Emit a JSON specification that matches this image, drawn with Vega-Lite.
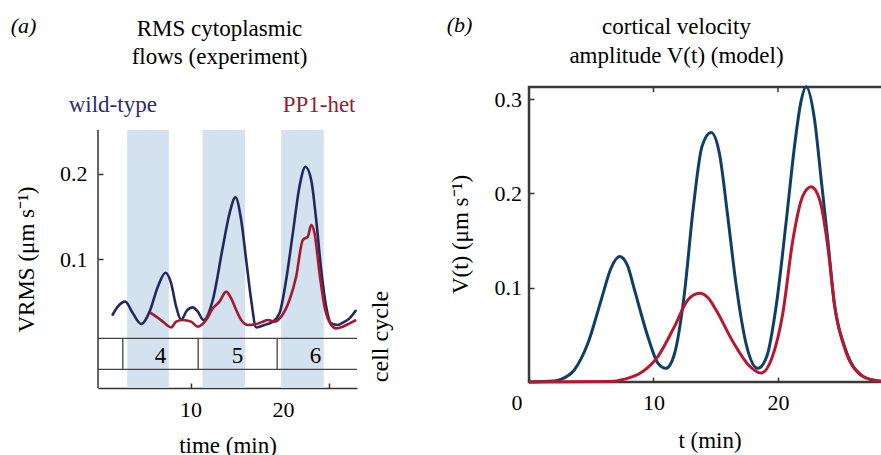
{
  "$schema": "https://vega.github.io/schema/vega-lite/v6.json",
  "background": "white",
  "autosize": {"type": "pad"},
  "padding": {"left": 10, "top": 12, "right": 0, "bottom": 0},
  "bounds": "flush",
  "spacing": 172,
  "resolve": {"scale": {"color": "independent"}},
  "config": {
    "font": "Liberation Serif",
    "view": {"stroke": null},
    "axis": {
      "labelFont": "Liberation Serif", "labelFontSize": 22, "labelColor": "#000",
      "titleFont": "Liberation Serif", "titleFontSize": 23, "titleFontWeight": "normal", "titleColor": "#000",
      "grid": false, "domainColor": "#333", "domainWidth": 1.5, "tickColor": "#333", "tickWidth": 1.5,
      "tickSize": -5, "labelFlush": false, "labelOverlap": false
    },
    "title": {"font": "Liberation Serif", "fontSize": 23, "fontWeight": "normal", "color": "#000"},
    "text": {"font": "Liberation Serif", "fontSize": 23, "color": "#000"}
  },
  "datasets": {
    "bands": [
      {"start": 3.16, "end": 7.66},
      {"start": 11.3, "end": 15.9},
      {"start": 19.8, "end": 24.4}
    ],
    "cycleLines": [{"t": 2.68}, {"t": 10.83}, {"t": 19.37}],
    "cycleRows": [{"level": 0.0067}, {"level": -0.0298}],
    "cycles": [
      {"t": 6.76, "cycle": "4"},
      {"t": 15.08, "cycle": "5"},
      {"t": 23.51, "cycle": "6"}
    ],
    "topTicks": [{"t": 10}, {"t": 20}],
    "expt": [
      {"strain": "wild-type", "t": 1.53, "v": 0.0333},
      {"strain": "wild-type", "t": 2.14, "v": 0.0439},
      {"strain": "wild-type", "t": 2.94, "v": 0.0498},
      {"strain": "wild-type", "t": 3.77, "v": 0.0361},
      {"strain": "wild-type", "t": 4.67, "v": 0.0235},
      {"strain": "wild-type", "t": 5.57, "v": 0.038},
      {"strain": "wild-type", "t": 6.47, "v": 0.0675},
      {"strain": "wild-type", "t": 7.3, "v": 0.0839},
      {"strain": "wild-type", "t": 7.91, "v": 0.0714},
      {"strain": "wild-type", "t": 8.45, "v": 0.0439},
      {"strain": "wild-type", "t": 8.99, "v": 0.0282},
      {"strain": "wild-type", "t": 9.6, "v": 0.0392},
      {"strain": "wild-type", "t": 10.25, "v": 0.0431},
      {"strain": "wild-type", "t": 10.79, "v": 0.038},
      {"strain": "wild-type", "t": 11.4, "v": 0.0282},
      {"strain": "wild-type", "t": 12.41, "v": 0.0518},
      {"strain": "wild-type", "t": 13.5, "v": 0.1145},
      {"strain": "wild-type", "t": 14.22, "v": 0.1537},
      {"strain": "wild-type", "t": 14.86, "v": 0.1725},
      {"strain": "wild-type", "t": 15.48, "v": 0.1459},
      {"strain": "wild-type", "t": 16.02, "v": 0.0988},
      {"strain": "wild-type", "t": 16.56, "v": 0.0518},
      {"strain": "wild-type", "t": 17.1, "v": 0.0196},
      {"strain": "wild-type", "t": 18.0, "v": 0.0224},
      {"strain": "wild-type", "t": 18.9, "v": 0.0263},
      {"strain": "wild-type", "t": 19.62, "v": 0.0361},
      {"strain": "wild-type", "t": 20.34, "v": 0.0753},
      {"strain": "wild-type", "t": 21.06, "v": 0.1302},
      {"strain": "wild-type", "t": 21.78, "v": 0.1851},
      {"strain": "wild-type", "t": 22.43, "v": 0.2086},
      {"strain": "wild-type", "t": 23.05, "v": 0.193},
      {"strain": "wild-type", "t": 23.59, "v": 0.1459},
      {"strain": "wild-type", "t": 24.13, "v": 0.0871},
      {"strain": "wild-type", "t": 24.67, "v": 0.0439},
      {"strain": "wild-type", "t": 25.21, "v": 0.0243},
      {"strain": "wild-type", "t": 25.93, "v": 0.0224},
      {"strain": "wild-type", "t": 26.47, "v": 0.0251},
      {"strain": "wild-type", "t": 27.19, "v": 0.0302},
      {"strain": "wild-type", "t": 27.91, "v": 0.04},
      {"strain": "PP1-het", "t": 5.64, "v": 0.0369},
      {"strain": "PP1-het", "t": 6.29, "v": 0.0322},
      {"strain": "PP1-het", "t": 7.01, "v": 0.0263},
      {"strain": "PP1-het", "t": 7.91, "v": 0.0196},
      {"strain": "PP1-het", "t": 8.45, "v": 0.0263},
      {"strain": "PP1-het", "t": 9.17, "v": 0.0282},
      {"strain": "PP1-het", "t": 10.07, "v": 0.0263},
      {"strain": "PP1-het", "t": 10.79, "v": 0.0204},
      {"strain": "PP1-het", "t": 11.69, "v": 0.0282},
      {"strain": "PP1-het", "t": 12.41, "v": 0.042},
      {"strain": "PP1-het", "t": 13.14, "v": 0.0498},
      {"strain": "PP1-het", "t": 13.86, "v": 0.0616},
      {"strain": "PP1-het", "t": 14.4, "v": 0.0537},
      {"strain": "PP1-het", "t": 14.94, "v": 0.04},
      {"strain": "PP1-het", "t": 15.48, "v": 0.0282},
      {"strain": "PP1-het", "t": 16.2, "v": 0.0224},
      {"strain": "PP1-het", "t": 17.1, "v": 0.0235},
      {"strain": "PP1-het", "t": 17.82, "v": 0.0263},
      {"strain": "PP1-het", "t": 18.36, "v": 0.0282},
      {"strain": "PP1-het", "t": 19.08, "v": 0.0263},
      {"strain": "PP1-het", "t": 19.8, "v": 0.0322},
      {"strain": "PP1-het", "t": 20.7, "v": 0.0518},
      {"strain": "PP1-het", "t": 21.42, "v": 0.0792},
      {"strain": "PP1-het", "t": 22.14, "v": 0.1224},
      {"strain": "PP1-het", "t": 22.68, "v": 0.1263},
      {"strain": "PP1-het", "t": 23.05, "v": 0.14},
      {"strain": "PP1-het", "t": 23.41, "v": 0.1302},
      {"strain": "PP1-het", "t": 23.95, "v": 0.0831},
      {"strain": "PP1-het", "t": 24.49, "v": 0.0439},
      {"strain": "PP1-het", "t": 25.21, "v": 0.0224},
      {"strain": "PP1-het", "t": 25.75, "v": 0.0184},
      {"strain": "PP1-het", "t": 26.47, "v": 0.0204},
      {"strain": "PP1-het", "t": 27.19, "v": 0.0243},
      {"strain": "PP1-het", "t": 27.91, "v": 0.0282}
    ],
    "model": [
      {"strain": "wild-type", "t": 0, "v": 0},
      {"strain": "wild-type", "t": 2.0, "v": 0.001},
      {"strain": "wild-type", "t": 2.6, "v": 0.003},
      {"strain": "wild-type", "t": 3.65, "v": 0.013},
      {"strain": "wild-type", "t": 4.73, "v": 0.041},
      {"strain": "wild-type", "t": 5.8, "v": 0.087},
      {"strain": "wild-type", "t": 6.6, "v": 0.121},
      {"strain": "wild-type", "t": 7.27, "v": 0.133},
      {"strain": "wild-type", "t": 7.9, "v": 0.124},
      {"strain": "wild-type", "t": 8.47, "v": 0.098},
      {"strain": "wild-type", "t": 9.55, "v": 0.048},
      {"strain": "wild-type", "t": 10.35, "v": 0.02},
      {"strain": "wild-type", "t": 11.0, "v": 0.0145},
      {"strain": "wild-type", "t": 11.69, "v": 0.03},
      {"strain": "wild-type", "t": 12.45, "v": 0.09},
      {"strain": "wild-type", "t": 13.2, "v": 0.185},
      {"strain": "wild-type", "t": 13.9, "v": 0.25},
      {"strain": "wild-type", "t": 14.63, "v": 0.2645},
      {"strain": "wild-type", "t": 15.3, "v": 0.242},
      {"strain": "wild-type", "t": 15.97, "v": 0.175},
      {"strain": "wild-type", "t": 16.64, "v": 0.103},
      {"strain": "wild-type", "t": 17.45, "v": 0.04},
      {"strain": "wild-type", "t": 18.38, "v": 0.0145},
      {"strain": "wild-type", "t": 19.1, "v": 0.027},
      {"strain": "wild-type", "t": 19.85, "v": 0.08},
      {"strain": "wild-type", "t": 20.66, "v": 0.17},
      {"strain": "wild-type", "t": 21.33, "v": 0.25},
      {"strain": "wild-type", "t": 21.86, "v": 0.298},
      {"strain": "wild-type", "t": 22.26, "v": 0.313},
      {"strain": "wild-type", "t": 22.93, "v": 0.279},
      {"strain": "wild-type", "t": 23.47, "v": 0.215},
      {"strain": "wild-type", "t": 24.0, "v": 0.151},
      {"strain": "wild-type", "t": 24.54, "v": 0.082},
      {"strain": "wild-type", "t": 25.34, "v": 0.038},
      {"strain": "wild-type", "t": 26.28, "v": 0.012},
      {"strain": "wild-type", "t": 27.35, "v": 0.003},
      {"strain": "wild-type", "t": 29, "v": 0},
      {"strain": "PP1-het", "t": 0, "v": 0},
      {"strain": "PP1-het", "t": 6.5, "v": 0.0005},
      {"strain": "PP1-het", "t": 7.67, "v": 0.003},
      {"strain": "PP1-het", "t": 9.01, "v": 0.01},
      {"strain": "PP1-het", "t": 10.35, "v": 0.027},
      {"strain": "PP1-het", "t": 11.69, "v": 0.059},
      {"strain": "PP1-het", "t": 12.76, "v": 0.087},
      {"strain": "PP1-het", "t": 13.7, "v": 0.094},
      {"strain": "PP1-het", "t": 14.4, "v": 0.089},
      {"strain": "PP1-het", "t": 15.04, "v": 0.076},
      {"strain": "PP1-het", "t": 16.37, "v": 0.043},
      {"strain": "PP1-het", "t": 17.71, "v": 0.017},
      {"strain": "PP1-het", "t": 18.65, "v": 0.0095},
      {"strain": "PP1-het", "t": 19.5, "v": 0.025},
      {"strain": "PP1-het", "t": 20.39, "v": 0.073},
      {"strain": "PP1-het", "t": 21.19, "v": 0.15},
      {"strain": "PP1-het", "t": 21.99, "v": 0.197},
      {"strain": "PP1-het", "t": 22.66, "v": 0.207},
      {"strain": "PP1-het", "t": 23.33, "v": 0.194},
      {"strain": "PP1-het", "t": 24.0, "v": 0.144},
      {"strain": "PP1-het", "t": 24.54, "v": 0.082},
      {"strain": "PP1-het", "t": 25.48, "v": 0.031},
      {"strain": "PP1-het", "t": 26.55, "v": 0.009},
      {"strain": "PP1-het", "t": 27.6, "v": 0.002},
      {"strain": "PP1-het", "t": 29, "v": 0}
    ]
  },
  "hconcat": [
    {
      "width": 259,
      "height": 301,
      "title": {"text": ["RMS cytoplasmic", "flows (experiment)"], "frame": "group", "anchor": "middle", "baseline": "top", "offset": -54, "lineHeight": 28.3, "dx": -8},
      "layer": [
        {
          "data": {"name": "bands"},
          "mark": {"type": "rect", "color": "#d4e1ee"},
          "encoding": {
            "x": {"field": "start", "type": "quantitative", "scale": {"domain": [0, 28], "nice": false, "zero": false},
                  "axis": {"title": "time (min)", "values": [5, 10, 15, 20, 25], "labelExpr": "datum.value == 10 || datum.value == 20 ? datum.label : ''", "domain": true, "labelPadding": 16.6, "titleY": 64, "titleBaseline": "alphabetic", "labelFont": "Liberation Serif", "titleFont": "Liberation Serif"}},
            "x2": {"field": "end"},
            "y": {"datum": 0.2518, "type": "quantitative", "scale": {"domain": [-0.05176, 0.30235], "nice": false, "zero": false},
                  "axis": {"title": "VRMS (μm s⁻¹)", "values": [0.1, 0.2], "format": ".1f", "domain": false, "labelPadding": 16, "titleX": -65, "titleY": 172, "titleBaseline": "alphabetic", "labelFont": "Liberation Serif", "titleFont": "Liberation Serif"}},
            "y2": {"datum": -0.05176}
          }
        },
        {
          "data": {"name": "cycleRows"},
          "mark": {"type": "rule", "color": "#444", "strokeWidth": 1.3},
          "encoding": {"y": {"field": "level", "type": "quantitative"}}
        },
        {
          "data": {"name": "cycleLines"},
          "mark": {"type": "rule", "color": "#444", "strokeWidth": 1.3},
          "encoding": {"x": {"field": "t", "type": "quantitative"}, "y": {"datum": -0.0298}, "y2": {"datum": 0.0067}}
        },
        {
          "data": {"values": [{}]},
          "mark": {"type": "rule", "color": "#333", "strokeWidth": 1.5},
          "encoding": {"x": {"datum": 0}, "y": {"datum": -0.05176}, "y2": {"datum": 0.2518}}
        },
        {
          "data": {"name": "cycles"},
          "mark": {"type": "text", "baseline": "middle", "align": "center", "fontSize": 23, "font": "Liberation Serif"},
          "encoding": {"x": {"field": "t", "type": "quantitative"}, "y": {"datum": -0.0138}, "text": {"field": "cycle"}}
        },
        {
          "data": {"name": "expt"},
          "mark": {"type": "line", "strokeWidth": 2.6, "interpolate": "monotone"},
          "encoding": {
            "x": {"field": "t", "type": "quantitative"},
            "y": {"field": "v", "type": "quantitative"},
            "color": {"field": "strain", "type": "nominal", "scale": {"domain": ["wild-type", "PP1-het"], "range": ["#24285e", "#a3192f"]}, "legend": null}
          }
        },
        {
          "data": {"values": [{}]},
          "mark": {"type": "text", "text": "wild-type", "color": "#2b2e6e", "align": "center", "baseline": "alphabetic", "fontSize": 23, "font": "Liberation Serif"},
          "encoding": {"x": {"datum": 1.6}, "y": {"datum": 0.2733}}
        },
        {
          "data": {"values": [{}]},
          "mark": {"type": "text", "text": "PP1-het", "color": "#9b1b30", "align": "center", "baseline": "alphabetic", "fontSize": 23, "font": "Liberation Serif"},
          "encoding": {"x": {"datum": 23.9}, "y": {"datum": 0.2733}}
        },
        {
          "data": {"values": [{}]},
          "mark": {"type": "text", "text": "cell cycle", "angle": 270, "align": "center", "baseline": "alphabetic", "fontSize": 24, "font": "Liberation Serif"},
          "encoding": {"x": {"datum": 31.3}, "y": {"datum": 0.0088}}
        },
        {
          "data": {"values": [{}]},
          "mark": {"type": "text", "text": "(a)", "fontStyle": "italic", "align": "center", "baseline": "alphabetic", "fontSize": 22, "font": "Liberation Serif"},
          "encoding": {"x": {"datum": -8.05}, "y": {"datum": 0.3659}}
        }
      ]
    },
    {
      "width": 361,
      "height": 295,
      "view": {"stroke": "#3a3a3a", "strokeWidth": 2.5},
      "title": {"text": ["cortical velocity", "amplitude V(t) (model)"], "frame": "group", "anchor": "middle", "baseline": "top", "offset": -54, "lineHeight": 28.3, "dx": -33},
      "layer": [
        {
          "data": {"name": "model"},
          "mark": {"type": "line", "strokeWidth": 3, "interpolate": "monotone"},
          "encoding": {
            "x": {"field": "t", "type": "quantitative", "scale": {"domain": [0, 29], "nice": false, "zero": false},
                  "axis": {"title": "t (min)", "values": [0, 10, 20], "domain": false, "labelPadding": 15.6,
                           "labelOffset": {"condition": {"test": "datum.value === 0", "value": -12.5}, "value": 0},
                           "titleY": 65, "titleBaseline": "alphabetic", "labelFont": "Liberation Serif", "titleFont": "Liberation Serif"}},
            "y": {"field": "v", "type": "quantitative", "scale": {"domain": [0, 0.31277], "nice": false, "zero": false},
                  "axis": {"title": "V(t) (μm s⁻¹)", "values": [0.1, 0.2, 0.3], "format": ".1f", "domain": false, "labelPadding": 12.5, "titleX": -62, "titleY": 147, "titleBaseline": "alphabetic", "labelFont": "Liberation Serif", "titleFont": "Liberation Serif"}},
            "color": {"field": "strain", "type": "nominal", "scale": {"domain": ["wild-type", "PP1-het"], "range": ["#0f3f66", "#b8172f"]}, "legend": null}
          }
        },
        {
          "data": {"name": "topTicks"},
          "mark": {"type": "rule", "color": "#333", "strokeWidth": 1.5},
          "encoding": {"x": {"field": "t", "type": "quantitative"}, "y": {"datum": 0.31277}, "y2": {"datum": 0.3075}}
        },
        {
          "data": {"values": [{}]},
          "mark": {"type": "text", "text": "(b)", "fontStyle": "italic", "align": "center", "baseline": "alphabetic", "fontSize": 22, "font": "Liberation Serif"},
          "encoding": {"x": {"datum": -5.58}, "y": {"datum": 0.3713}}
        }
      ]
    }
  ]
}
